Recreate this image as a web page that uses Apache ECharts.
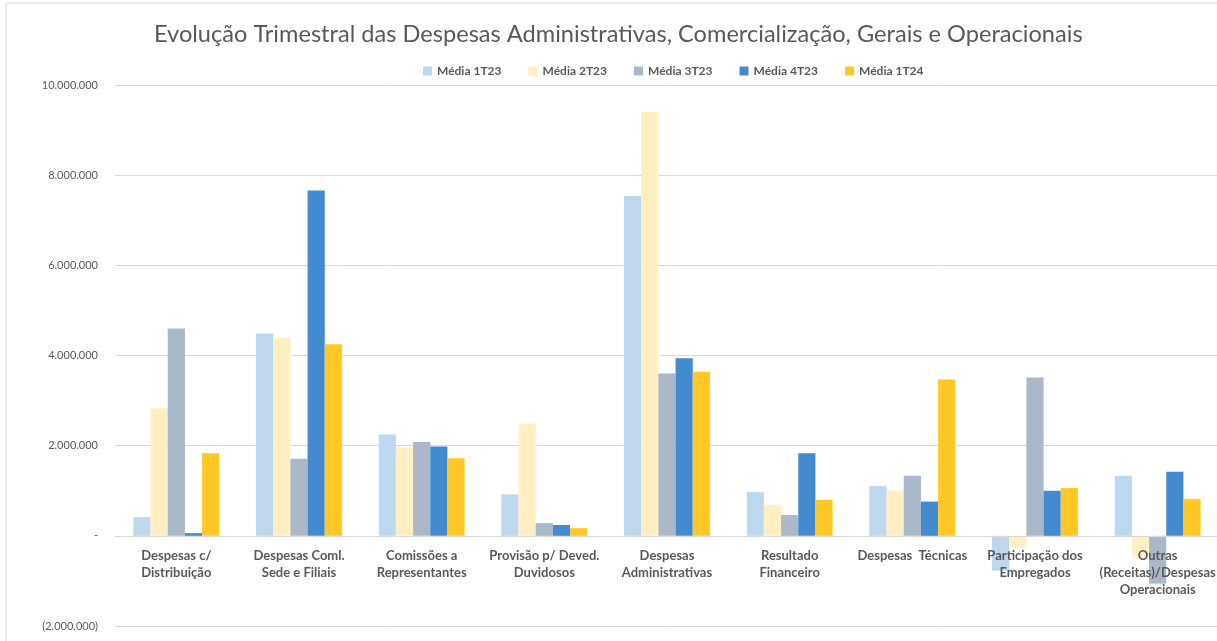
<!DOCTYPE html>
<html>
<head>
<meta charset="utf-8">
<script src="https://cdn.jsdelivr.net/npm/echarts@6/dist/echarts.min.js"></script>
<style>
  html, body { margin: 0; padding: 0; background: #fff; }
  #chart { width: 1217px; height: 641px; }
</style>
</head>
<body>
<div id="chart"></div>
<script>
// categorias (eixo x)
const categorias = [
  'Despesas c/\nDistribuição',
  'Despesas Coml.\nSede e Filiais',
  'Comissões a\nRepresentantes',
  'Provisão p/ Deved.\nDuvidosos',
  'Despesas\nAdministrativas',
  'Resultado\nFinanceiro',
  'Despesas  Técnicas',
  'Participação dos\nEmpregados',
  'Outras\n(Receitas)/Despesas\nOperacionais'
];

const nomesSeries = ['Média 1T23', 'Média 2T23', 'Média 3T23', 'Média 4T23', 'Média 1T24'];
const cores = ['#BDD7EE', '#FFEFC2', '#ABB8C9', '#418BCE', '#FFC825'];

// valores
const media1T23 = [415000, 4490000, 2250000, 920000, 7540000, 970000, 1100000, -770000, 1330000];
const media2T23 = [2830000, 4390000, 1960000, 2490000, 9400000, 690000, 1000000, -250000, -460000];
const media3T23 = [4600000, 1710000, 2080000, 280000, 3600000, 460000, 1330000, 3510000, -1060000];
const media4T23 = [60000, 7660000, 1980000, 240000, 3940000, 1830000, 760000, 1000000, 1420000];
const media1T24 = [1830000, 4250000, 1720000, 170000, 3640000, 800000, 3470000, 1060000, 820000];

const valores = [media1T23, media2T23, media3T23, media4T23, media1T24];

const fonte = 'Lato, "Open Sans", sans-serif';
const cinza = '#595959';

function formatar(v) {
  if (v === 0) return '-';
  const s = Math.abs(v).toString().replace(/\B(?=(\d{3})+(?!\d))/g, '.');
  return v < 0 ? '(' + s + ')' : s;
}

const chart = echarts.init(document.getElementById('chart'));

const series = [];
for (let i = 0; i < nomesSeries.length; i++) {
  series.push({
    name: nomesSeries[i],
    type: 'bar',
    data: valores[i],
    barGap: '0%',
    barCategoryGap: '30%',
    itemStyle: { color: cores[i] }
  });
}

const option = {
  backgroundColor: '#FFFFFF',
  animation: false,
  textStyle: { fontFamily: fonte },
  color: cores,
  title: {
    text: 'Evolução Trimestral das Despesas Administrativas, Comercialização, Gerais e Operacionais',
    left: 149,
    top: 17,
    textStyle: {
      fontFamily: fonte,
      fontSize: 23.6,
      fontWeight: 'normal',
      color: cinza
    }
  },
  legend: {
    top: 60,
    left: 418,
    itemWidth: 9,
    itemHeight: 9,
    itemGap: 27,
    icon: 'rect',
    textStyle: { fontFamily: fonte, fontSize: 12, fontWeight: 'bold', color: cinza }
  },
  grid: {
    left: 115,
    right: -2,
    top: 85,
    bottom: 15,
    containLabel: false,
    outerBoundsMode: 'none'
  },
  xAxis: {
    type: 'category',
    data: categorias,
    // o eixo fica na linha do zero (90 px acima da base da grade)
    offset: -90,
    axisLine: { onZero: false, lineStyle: { color: '#D9D9D9' } },
    axisTick: { show: false },
    axisLabel: {
      interval: 0,
      margin: 11,
      fontFamily: fonte,
      fontSize: 13,
      fontWeight: 'bold',
      color: cinza,
      lineHeight: 17
    },
    z: 10
  },
  yAxis: {
    type: 'value',
    min: -2000000,
    max: 10000000,
    interval: 2000000,
    axisLine: { show: false },
    axisTick: { show: false },
    splitLine: { lineStyle: { color: '#D9D9D9' } },
    axisLabel: {
      margin: 17,
      fontFamily: fonte,
      fontSize: 11,
      color: cinza,
      formatter: formatar
    }
  },
  graphic: [{
    type: 'rect',
    shape: { x: 6, y: 3, width: 1400, height: 800 },
    style: { fill: 'none', stroke: '#D9D9D9', lineWidth: 1 },
    silent: true
  }],
  series: series
};

chart.setOption(option);
</script>
</body>
</html>
